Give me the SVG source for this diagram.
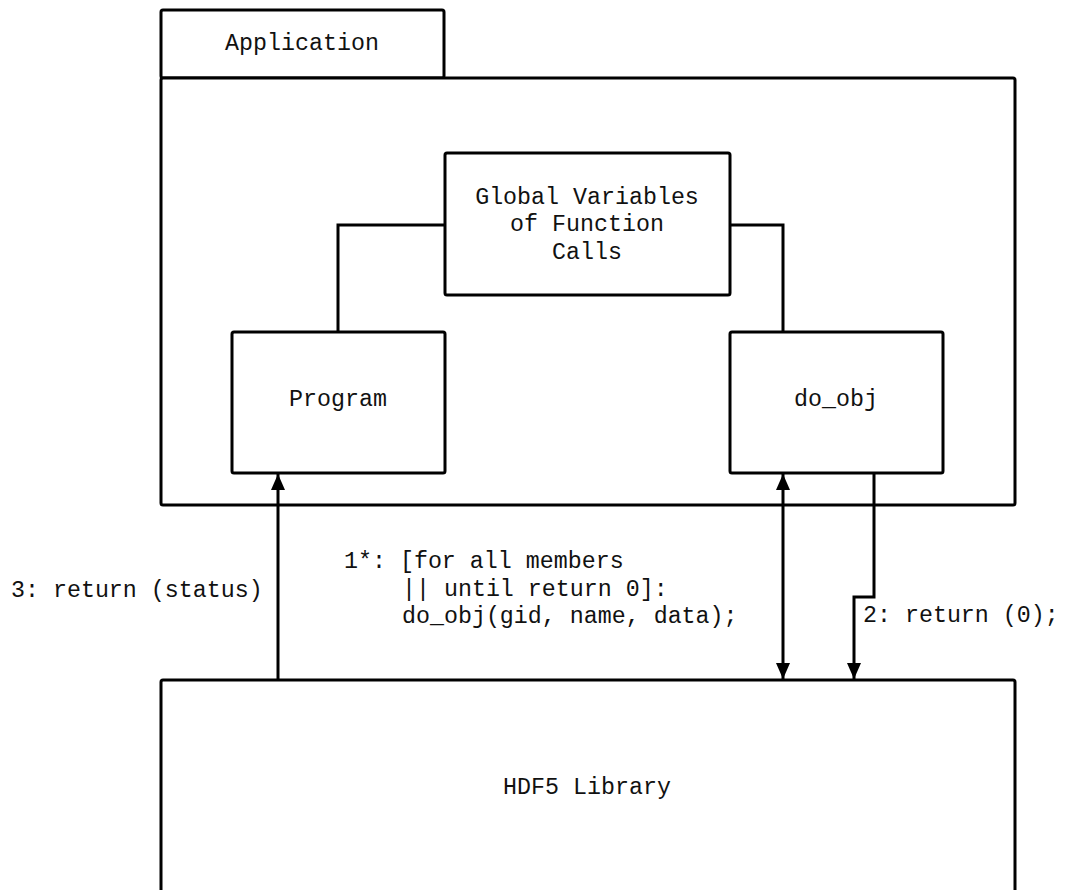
<svg xmlns="http://www.w3.org/2000/svg" width="1065" height="890" viewBox="0 0 1065 890">
<style>
.box{fill:#fff;stroke:#000;stroke-width:3;stroke-linejoin:round}
.ln{fill:none;stroke:#000;stroke-width:3}
text{font-family:"Liberation Mono","Courier New",monospace;font-size:23.3px;fill:#111}
.c{text-anchor:middle}
</style>
<defs>
<marker id="ah" viewBox="0 0 16 14" refX="16" refY="7" markerWidth="16" markerHeight="14" markerUnits="userSpaceOnUse" orient="auto-start-reverse">
<path d="M0,0 L16,7 L0,14 Z" fill="#000"/>
</marker>
</defs>
<rect width="1065" height="890" fill="#fff"/>
<g id="application">
<rect class="box" x="161" y="10" width="283" height="68" rx="2"/>
<rect class="box" x="161" y="78" width="854" height="427" rx="2"/>
<text class="c" x="302" y="50">Application</text>
</g>
<g id="global">
<rect class="box" x="445" y="153" width="285" height="142" rx="2"/>
<text class="c" x="587" y="204">Global Variables</text>
<text class="c" x="587" y="231">of Function</text>
<text class="c" x="587" y="259">Calls</text>
</g>
<g id="program">
<rect class="box" x="232" y="332" width="213" height="141" rx="2"/>
<text class="c" x="338" y="406">Program</text>
</g>
<g id="do_obj">
<rect class="box" x="730" y="332" width="213" height="141" rx="2"/>
<text class="c" x="836" y="406">do_obj</text>
</g>
<g id="hdf5">
<rect class="box" x="161" y="680" width="854" height="230" rx="2"/>
<text class="c" x="587" y="794">HDF5 Library</text>
</g>
<g id="connectors">
<polyline class="ln" points="445,225 338,225 338,332"/>
<polyline class="ln" points="730,225 783,225 783,332"/>
<line class="ln" x1="278" y1="680" x2="278" y2="474" marker-end="url(#ah)"/>
<line class="ln" x1="783" y1="679" x2="783" y2="474" marker-start="url(#ah)" marker-end="url(#ah)"/>
<polyline class="ln" points="874,473 874,597 854,597 854,679" marker-end="url(#ah)"/>
</g>
<g id="labels">
<text x="11" y="597">3: return (status)</text>
<text x="344" y="568">1*: [for all members</text>
<text x="402" y="596">|| until return 0]:</text>
<text x="402" y="623">do_obj(gid, name, data);</text>
<text x="863" y="622">2: return (0);</text>
</g>
</svg>
